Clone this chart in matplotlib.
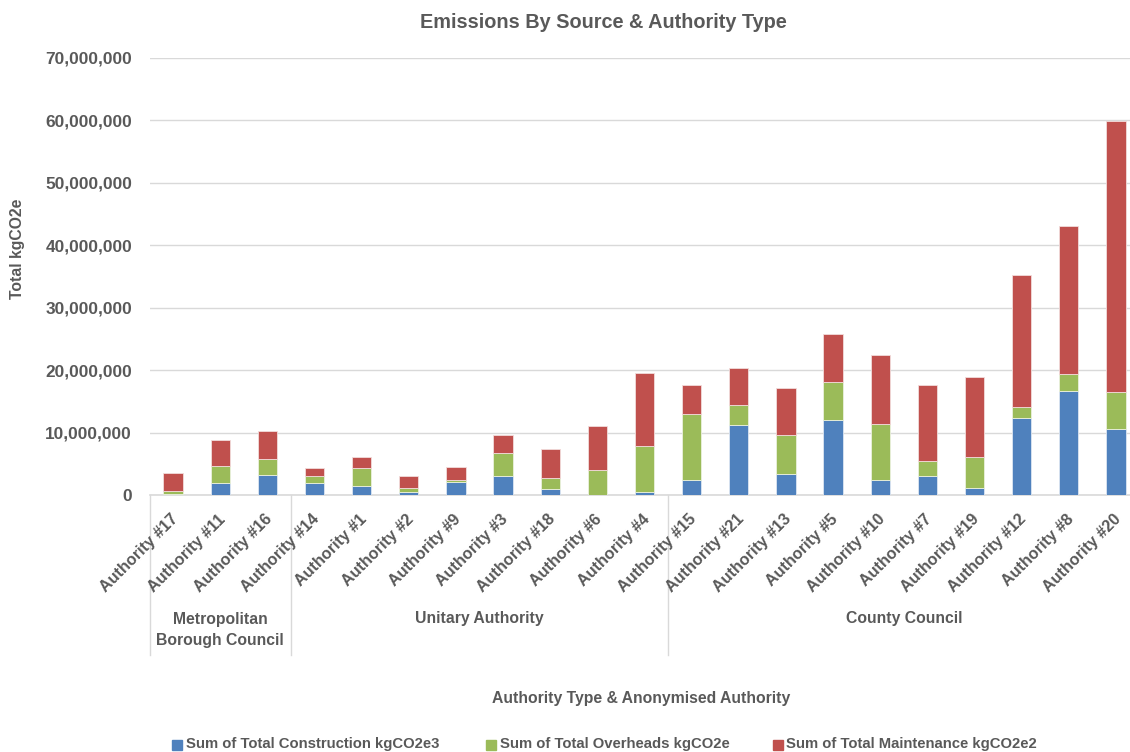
import matplotlib
matplotlib.use("Agg")
import matplotlib.pyplot as plt
from matplotlib.ticker import FuncFormatter
from matplotlib.patches import Rectangle
from matplotlib.transforms import ScaledTranslation
import numpy as np
from matplotlib import font_manager

authorities = ["Authority #17", "Authority #11", "Authority #16",
               "Authority #14", "Authority #1", "Authority #2", "Authority #9",
               "Authority #3", "Authority #18", "Authority #6", "Authority #4",
               "Authority #15", "Authority #21", "Authority #13", "Authority #5",
               "Authority #10", "Authority #7", "Authority #19", "Authority #12",
               "Authority #8", "Authority #20"]
group_names = ["Metropolitan\nBorough Council", "Unitary Authority", "County Council"]
group_sizes = [3, 8, 10]

# segment values (millions kgCO2e)
construction = [0.21, 1.92, 3.20, 2.03, 1.55, 0.59, 2.19, 3.15, 1.01, 0.05, 0.59,
                2.51, 11.31, 3.36, 12.10, 2.45, 3.15, 1.23, 12.32, 16.75, 10.56]
overheads = [0.48, 2.83, 2.67, 1.12, 2.82, 0.64, 0.32, 3.62, 1.82, 4.05, 7.30,
             10.45, 3.09, 6.29, 6.03, 8.96, 2.34, 4.96, 1.81, 2.72, 6.03]
maintenance = [2.94, 4.05, 4.42, 1.28, 1.76, 1.86, 2.02, 2.83, 4.64, 6.94, 11.74,
               4.64, 5.92, 7.58, 7.74, 10.99, 12.21, 12.74, 21.07, 23.57, 43.21]

series_labels = ["Sum of Total Construction kgCO2e3", "Sum of Total Overheads kgCO2e",
                 "Sum of Total Maintenance kgCO2e2"]
colors = ["#4F81BD", "#9BBB59", "#C0504D"]

avail = {f.name for f in font_manager.fontManager.ttflist}
FONT = "Liberation Sans" if "Liberation Sans" in avail else "DejaVu Sans"
gray = "#595959"
FS = 11.3

W, H = 1130, 752
fig = plt.figure(figsize=(W / 100, H / 100), dpi=100)
left_px, right_px, bot_px, top_px = 149.5, 1139.5, 495.3, 57.5
ax = fig.add_axes([left_px / W, 1 - bot_px / H, (right_px - left_px) / W, (bot_px - top_px) / H])

x = np.arange(len(authorities))
c = np.array(construction) * 1e6
o = np.array(overheads) * 1e6
m = np.array(maintenance) * 1e6
bw = 0.41
ax.bar(x, c, bw, color=colors[0], edgecolor="#DCE6F2", linewidth=0.6, zorder=3)
ax.bar(x, o, bw, bottom=c, color=colors[1], edgecolor="#EBF1DE", linewidth=0.6, zorder=3)
ax.bar(x, m, bw, bottom=c + o, color=colors[2], edgecolor="#F2DCDB", linewidth=0.6, zorder=3)

ax.set_xlim(-0.5, len(authorities) - 0.5)
ax.set_ylim(0, 70e6)
ax.set_yticks(np.arange(0, 70e6 + 1, 10e6))
ax.yaxis.set_major_formatter(FuncFormatter(lambda v, p: f"{int(v):,}"))
ax.grid(axis="y", color="#D9D9D9", linewidth=1.0, zorder=0)
for s in ["top", "right", "left"]:
    ax.spines[s].set_visible(False)
ax.spines["bottom"].set_color("#D9D9D9")
ax.spines["bottom"].set_linewidth(1.2)
ax.tick_params(axis="both", length=0)
ax.tick_params(axis="y", pad=12.6)
for lab in ax.get_yticklabels():
    lab.set_fontfamily(FONT)
    lab.set_fontweight("bold")
    lab.set_fontsize(12.4)
    lab.set_color(gray)

ax.set_xticks(x)
ax.set_xticklabels(authorities, rotation=45, ha="right", va="center",
                   rotation_mode="anchor", fontfamily=FONT, fontweight="bold",
                   fontsize=11.6, color=gray)
ax.tick_params(axis="x", pad=15.5)
shift = ScaledTranslation(0.025, 0, fig.dpi_scale_trans)
for lab in ax.get_xticklabels():
    lab.set_transform(lab.get_transform() + shift)

# group separators and labels
trans = ax.get_xaxis_transform()
sep_bottom = -(655 - bot_px) / (bot_px - top_px)
bounds = np.concatenate([[0], np.cumsum(group_sizes)]) - 0.5
for b in bounds:
    ax.plot([b, b], [0, sep_bottom], transform=trans, color="#D9D9D9",
            linewidth=1.0, clip_on=False, zorder=1)
for i, name in enumerate(group_names):
    cx = (bounds[i] + bounds[i + 1]) / 2
    px = ax.transData.transform((cx, 0))[0] / W
    if "\n" in name:
        yy = 1 - 630 / H
    else:
        yy = 1 - 619 / H
    fig.text(px, yy, name, ha="center", va="center", fontfamily=FONT,
             fontweight="bold", fontsize=FS, color=gray, linespacing=1.55)

fig.text(603 / W, 1 - 23 / H, "Emissions By Source & Authority Type", ha="center",
         va="center", fontfamily=FONT, fontweight="bold", fontsize=14.3, color=gray)
fig.text(641 / W, 1 - 699 / H, "Authority Type & Anonymised Authority", ha="center",
         va="center", fontfamily=FONT, fontweight="bold", fontsize=FS, color=gray)
fig.text(18 / W, 1 - 249 / H, "Total kgCO2e", ha="center", va="center", rotation=90,
         fontfamily=FONT, fontweight="bold", fontsize=FS, color=gray)

# legend
sq_x = [172, 486, 773]
for lx, lab, col in zip(sq_x, series_labels, colors):
    fig.patches.append(Rectangle((lx / W, 1 - 750 / H), 9.5 / W, 10 / H,
                                 transform=fig.transFigure, color=col))
    fig.text((lx + 13.5) / W, 1 - 744 / H, lab, ha="left", va="center",
             fontfamily=FONT, fontweight="bold", fontsize=10.7, color=gray)

fig.savefig("out.png", dpi=100)
